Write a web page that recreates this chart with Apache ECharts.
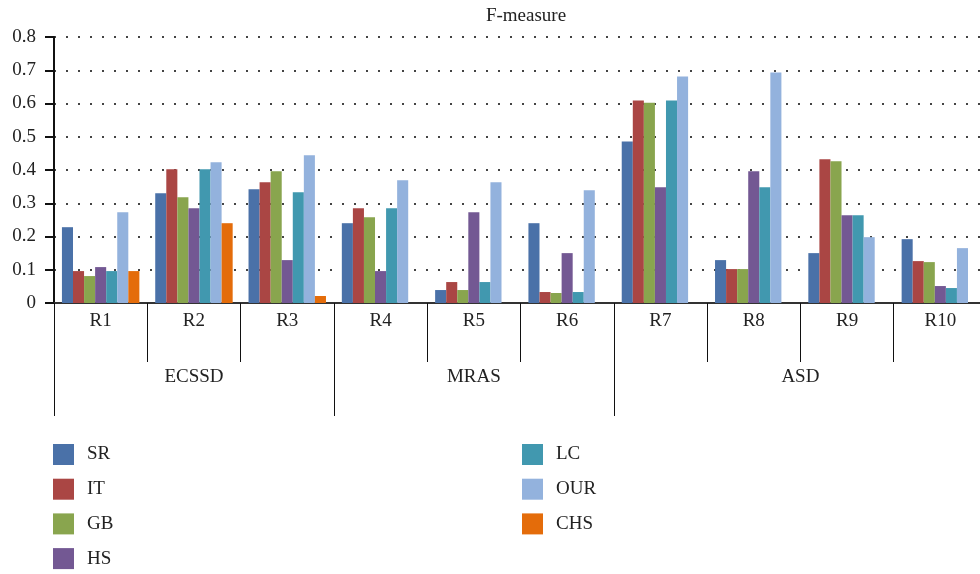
<!DOCTYPE html>
<html>
<head>
<meta charset="utf-8">
<script src="https://cdn.jsdelivr.net/npm/echarts@6/dist/echarts.min.js"></script>
<style>html,body{margin:0;padding:0;background:#fff;overflow:hidden}#c{width:987px;height:574px}</style>
</head>
<body>
<div id="c"></div>
<script>
const categories = ['R1','R2','R3','R4','R5','R6','R7','R8','R9','R10'];
const groups = ['ECSSD','MRAS','ASD'];
const groupSpans = [3,3,4];
const yTicks = [0,0.1,0.2,0.3,0.4,0.5,0.6,0.7,0.8];
const seriesNames = ['SR','IT','GB','HS','LC','OUR','CHS'];
const SR  = [0.228,0.330,0.342,0.240,0.039,0.240,0.486,0.129,0.150,0.192];
const IT  = [0.096,0.402,0.363,0.285,0.063,0.033,0.609,0.102,0.432,0.126];
const GB  = [0.081,0.318,0.396,0.258,0.039,0.030,0.602,0.102,0.426,0.123];
const HS  = [0.108,0.285,0.129,0.096,0.273,0.150,0.348,0.396,0.264,0.051];
const LC  = [0.096,0.402,0.333,0.285,0.063,0.033,0.609,0.348,0.264,0.045];
const OUR = [0.273,0.423,0.444,0.369,0.363,0.339,0.681,0.693,0.198,0.165];
const CHS = [0.096,0.240,0.021,0,0,0,0,0,0,0];
const seriesData = [SR,IT,GB,HS,LC,OUR,CHS];
const colors = ['#4A71A8','#AA4644','#89A54E','#735893','#4198AF','#93B2DD','#E46C0A'];

// outer group axis: half-step points
const outerData = new Array(categories.length*2+1).fill('');
const outerTickIdx = [], outerLabelIdx = [];
let s = 0;
groups.forEach((g,i)=>{
  outerTickIdx.push(2*s);
  outerLabelIdx.push(2*s+groupSpans[i]);
  outerData[2*s+groupSpans[i]] = g;
  s += groupSpans[i];
});

const font = '"Liberation Serif", "DejaVu Serif", serif';
const legendBase = {orient:'vertical', top:444, height:140, padding:0, itemWidth:21, itemHeight:21, itemGap:13.7,
  icon:'rect', textStyle:{fontFamily:font, fontSize:19, color:'#222', padding:[0,0,0,8]}};
const chart = echarts.init(document.getElementById('c'));
chart.setOption({
  animation:false,
  color: colors,
  textStyle:{fontFamily:font},
  title:{text:'F-measure', left:521, textAlign:'center', top:2,
    textStyle:{fontFamily:font, fontSize:19, fontWeight:'normal', color:'#222'}},
  legend:[
    Object.assign({data:seriesNames.slice(0,4), left:53}, legendBase),
    Object.assign({data:seriesNames.slice(4), left:522}, legendBase)
  ],
  grid:{left:54, right:0, top:37, bottom:271, containLabel:false},
  xAxis:[
    {type:'category', data:categories, position:'bottom',
     axisLine:{lineStyle:{color:'#333', width:2}},
     axisTick:{show:true, interval:0, length:59, lineStyle:{color:'#111', width:1}},
     axisLabel:{interval:0, margin:9, fontFamily:font, fontSize:19, color:'#222'},
     splitLine:{show:false}},
    {type:'category', data:outerData, boundaryGap:false, position:'bottom',
     axisLine:{show:false},
     axisTick:{show:true, length:113, interval:(i)=>outerTickIdx.includes(i), lineStyle:{color:'#111', width:1}},
     axisLabel:{interval:(i)=>outerLabelIdx.includes(i), margin:65, fontFamily:font, fontSize:19, color:'#222'},
     splitLine:{show:false}}
  ],
  yAxis:{type:'value', min:0, max:0.8, interval:0.1,
    axisLine:{show:true, lineStyle:{color:'#111', width:2}},
    axisTick:{show:true, length:9, inside:false, lineStyle:{color:'#111', width:2}},
    axisLabel:{margin:18, fontFamily:font, fontSize:19, color:'#222',
      formatter:(v)=>{const t=yTicks.find(x=>Math.abs(x-v)<1e-9); return t===undefined?'':String(t);}},
    splitLine:{show:true, lineStyle:{color:'#444', width:2, type:[2,10], dashOffset:-12}}},
  series: seriesNames.map((n,i)=>({
    name:n, type:'bar', data:seriesData[i], xAxisIndex:0,
    barGap:'0%', barCategoryGap:'17%', itemStyle:{color:colors[i]}
  }))
});
</script>
</body>
</html>
